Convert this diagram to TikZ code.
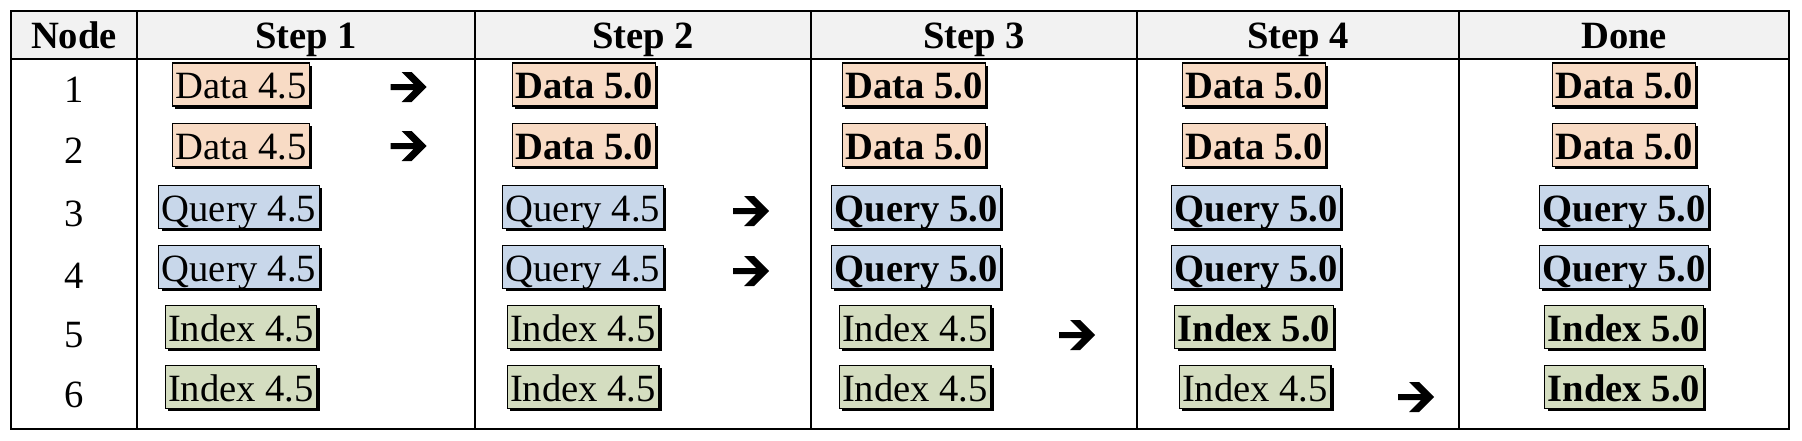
\documentclass[tikz,border=0pt]{standalone}
\usepackage{fontspec}
\setmainfont{Liberation Serif}
\usetikzlibrary{shadows}
\definecolor{datafill}{RGB}{248,219,197}
\definecolor{queryfill}{RGB}{200,215,234}
\definecolor{indexfill}{RGB}{212,221,192}
\definecolor{headfill}{RGB}{242,242,242}
\newcommand{\cellfont}{\fontsize{19.3}{23}\selectfont}
\tikzset{
  ver/.style={draw=black, line width=0.6pt, inner xsep=1.5pt, inner ysep=0.75pt,
    text height=17pt, text depth=3pt,
    drop shadow={shadow xshift=1.35pt, shadow yshift=-1.35pt, fill=black, opacity=1},
    font=\cellfont},
  data/.style={ver, fill=datafill},
  query/.style={ver, fill=queryfill},
  idx/.style={ver, fill=indexfill},
  new/.style={font=\cellfont\bfseries},
  head/.style={anchor=base, font=\cellfont\bfseries},
  num/.style={anchor=base, font=\cellfont},
  gridline/.style={line width=1pt},
  pics/upg/.style={code={\fill[black] (-18,-3) -- (5,-3) -- (-7,-15) -- (3,-15) -- (18,0)
      -- (3,15) -- (-7,15) -- (5,3) -- (-18,3) -- cycle;}}
}
\begin{document}
\begin{tikzpicture}[x=0.5pt,y=-0.5pt]
\useasboundingbox (0,0) rectangle (1802,440);
% table
\fill[headfill] (11,11) rectangle (1789,59);
\draw[gridline] (11,11) rectangle (1789,429);
\draw[gridline] (11,59) -- (1789,59);
\foreach \xx in {137,475,811,1137,1459} \draw[gridline] (\xx,11) -- (\xx,429);
% headers
\node[head] (hnode) at (74,48) {Node};
\node[head] (hs1) at (306,48) {Step 1};
\node[head] (hs2) at (643,48) {Step 2};
\node[head] (hs3) at (974,48) {Step 3};
\node[head] (hs4) at (1298,48) {Step 4};
\node[head] (hdone) at (1624,48) {Done};
% node numbers
\node[num] (n1) at (74,102) {1};
\node[num] (n2) at (74,163) {2};
\node[num] (n3) at (74,226) {3};
\node[num] (n4) at (74,288) {4};
\node[num] (n5) at (74,347) {5};
\node[num] (n6) at (74,407) {6};
% step 1
\node[data] (a1) at (241,84.5) {Data 4.5};
\node[data] (a2) at (241,145) {Data 4.5};
\node[query] (a3) at (239,207) {Query 4.5};
\node[query] (a4) at (239,267) {Query 4.5};
\node[idx] (a5) at (241,327) {Index 4.5};
\node[idx] (a6) at (241,387) {Index 4.5};
\pic (r1) at (408.7,87) {upg};
\pic (r2) at (408.7,146) {upg};
% step 2
\node[data,new] (b1) at (584,84.5) {Data 5.0};
\node[data,new] (b2) at (584,145) {Data 5.0};
\node[query] (b3) at (583,207) {Query 4.5};
\node[query] (b4) at (583,267) {Query 4.5};
\node[idx] (b5) at (583,327) {Index 4.5};
\node[idx] (b6) at (583,387) {Index 4.5};
\pic (r3) at (751,211) {upg};
\pic (r4) at (751,271) {upg};
% step 3
\node[data,new] (c1) at (914,84.5) {Data 5.0};
\node[data,new] (c2) at (914,145) {Data 5.0};
\node[query,new] (c3) at (916,207) {Query 5.0};
\node[query,new] (c4) at (916,267) {Query 5.0};
\node[idx] (c5) at (915,327) {Index 4.5};
\node[idx] (c6) at (915,387) {Index 4.5};
\pic (r5) at (1077,335) {upg};
% step 4
\node[data,new] (d1) at (1254,84.5) {Data 5.0};
\node[data,new] (d2) at (1254,145) {Data 5.0};
\node[query,new] (d3) at (1256,207) {Query 5.0};
\node[query,new] (d4) at (1256,267) {Query 5.0};
\node[idx,new] (d5) at (1254,327) {Index 5.0};
\node[idx] (d6) at (1255,387) {Index 4.5};
\pic (r6) at (1416,397) {upg};
% done
\node[data,new] (e1) at (1624,84.5) {Data 5.0};
\node[data,new] (e2) at (1624,145) {Data 5.0};
\node[query,new] (e3) at (1624,207) {Query 5.0};
\node[query,new] (e4) at (1624,267) {Query 5.0};
\node[idx,new] (e5) at (1624,327) {Index 5.0};
\node[idx,new] (e6) at (1624,387) {Index 5.0};
\end{tikzpicture}
\end{document}
